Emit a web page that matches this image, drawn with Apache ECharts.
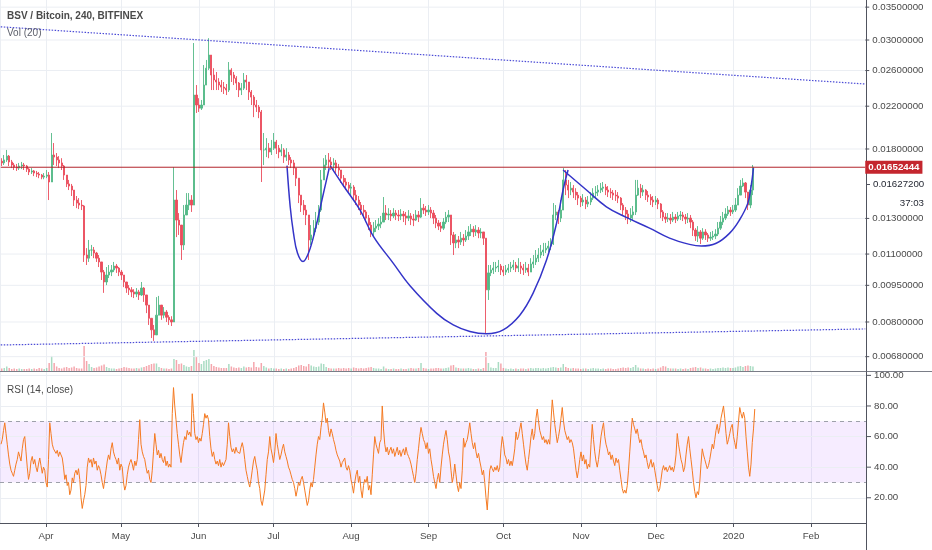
<!DOCTYPE html>
<html><head><meta charset="utf-8">
<script src="https://cdn.jsdelivr.net/npm/echarts@6.0.0/dist/echarts.min.js"></script>
<style>html,body{margin:0;padding:0;background:#fff}#c{width:932px;height:550px}</style>
</head><body><div id="c"></div>
<script>
// ---- data (daily bars, 14 Mar 2019 .. 9 Jan 2020) ----
const firstOpen = 0.01700;
const closes = [
0.01686,0.01710,0.01741,0.01694,0.01670,0.01654,0.01646,0.01662,0.01670,0.01662,
0.01638,0.01616,0.01624,0.01608,0.01601,0.01593,0.01578,0.01585,0.01593,0.01542,
0.01750,0.01733,0.01710,0.01686,0.01662,0.01593,0.01528,0.01513,0.01485,0.01417,
0.01397,0.01384,0.01378,0.01095,0.01079,0.01121,0.01121,0.01105,0.01079,0.01060,
0.01011,0.00965,0.00997,0.01011,0.01021,0.01040,0.01030,0.01011,0.00997,0.00965,
0.00938,0.00930,0.00921,0.00912,0.00921,0.00908,0.00938,0.00908,0.00866,0.00814,
0.00771,0.00753,0.00826,0.00866,0.00826,0.00838,0.00818,0.00808,0.00800,0.01417,
0.01290,0.01260,0.01148,0.01321,0.01384,0.01417,0.01384,0.02318,0.02212,0.02180,
0.02212,0.02429,0.02629,0.02796,0.02546,0.02487,0.02464,0.02429,0.02406,0.02394,
0.02373,0.02607,0.02546,0.02509,0.02452,0.02373,0.02394,0.02487,0.02464,0.02351,
0.02296,0.02212,0.02191,0.02141,0.01792,0.01792,0.01807,0.01775,0.01807,0.01860,
0.01807,0.01775,0.01792,0.01733,0.01750,0.01710,0.01686,0.01646,0.01570,0.01450,
0.01384,0.01352,0.01321,0.01175,0.01203,0.01242,0.01278,0.01352,0.01557,0.01670,
0.01710,0.01694,0.01670,0.01686,0.01646,0.01631,0.01570,0.01542,0.01520,0.01498,
0.01506,0.01450,0.01417,0.01384,0.01352,0.01340,0.01302,0.01260,0.01220,0.01242,
0.01254,0.01266,0.01278,0.01333,0.01321,0.01327,0.01315,0.01333,0.01321,0.01315,
0.01327,0.01315,0.01302,0.01315,0.01296,0.01290,0.01321,0.01308,0.01364,0.01352,
0.01340,0.01352,0.01333,0.01302,0.01272,0.01254,0.01242,0.01278,0.01308,0.01321,
0.01203,0.01159,0.01175,0.01164,0.01185,0.01175,0.01197,0.01220,0.01236,0.01220,
0.01231,0.01214,0.01220,0.01185,0.00930,0.01007,0.01021,0.01030,0.01035,0.01040,
0.01021,0.01011,0.01021,0.01030,0.01035,0.01045,0.01030,0.01040,0.01030,0.01021,
0.01030,0.01011,0.01050,0.01060,0.01079,0.01095,0.01111,0.01121,0.01131,0.01142,
0.01153,0.01321,0.01340,0.01302,0.01352,0.01557,0.01520,0.01485,0.01498,0.01471,
0.01450,0.01430,0.01404,0.01417,0.01391,0.01404,0.01430,0.01464,0.01471,0.01485,
0.01498,0.01506,0.01485,0.01471,0.01464,0.01450,0.01444,0.01430,0.01384,0.01352,
0.01327,0.01302,0.01321,0.01340,0.01450,0.01498,0.01471,0.01485,0.01450,0.01437,
0.01417,0.01404,0.01417,0.01391,0.01340,0.01308,0.01296,0.01302,0.01290,0.01308,
0.01296,0.01315,0.01321,0.01308,0.01296,0.01302,0.01278,0.01231,0.01197,0.01220,
0.01185,0.01220,0.01203,0.01185,0.01191,0.01197,0.01208,0.01242,0.01278,0.01302,
0.01327,0.01352,0.01340,0.01352,0.01384,0.01450,0.01513,0.01535,0.01471,0.01384,
0.01485,0.01652444];
const highs = [
0.01724,0.01750,0.01792,0.01750,0.01710,0.01686,0.01678,0.01686,0.01694,0.01686,
0.01670,0.01646,0.01646,0.01631,0.01624,0.01616,0.01601,0.01608,0.01631,0.01616,
0.01940,0.01851,0.01766,0.01741,0.01724,0.01670,0.01593,0.01557,0.01528,0.01485,
0.01444,0.01430,0.01417,0.01384,0.01131,0.01175,0.01148,0.01137,0.01111,0.01095,
0.01060,0.01021,0.01035,0.01045,0.01045,0.01060,0.01050,0.01035,0.01021,0.00992,
0.00965,0.00951,0.00942,0.00933,0.00938,0.00930,0.00965,0.00942,0.00908,0.00866,
0.00814,0.00789,0.00899,0.00904,0.00866,0.00858,0.00846,0.00826,0.00822,0.01654,
0.01485,0.01333,0.01260,0.01384,0.01464,0.01464,0.01450,0.02958,0.02429,0.02284,
0.02265,0.02668,0.02732,0.03026,0.02796,0.02629,0.02582,0.02509,0.02487,0.02464,
0.02441,0.02706,0.02629,0.02582,0.02533,0.02464,0.02452,0.02570,0.02546,0.02429,
0.02373,0.02318,0.02265,0.02212,0.02161,0.01940,0.01894,0.01851,0.01878,0.01940,
0.01878,0.01834,0.01842,0.01807,0.01807,0.01775,0.01733,0.01710,0.01646,0.01570,
0.01450,0.01417,0.01384,0.01321,0.01260,0.01290,0.01340,0.01384,0.01631,0.01724,
0.01750,0.01766,0.01733,0.01724,0.01710,0.01678,0.01631,0.01593,0.01570,0.01542,
0.01535,0.01520,0.01485,0.01444,0.01404,0.01384,0.01352,0.01321,0.01278,0.01278,
0.01290,0.01302,0.01315,0.01437,0.01384,0.01364,0.01352,0.01364,0.01352,0.01352,
0.01358,0.01346,0.01340,0.01352,0.01333,0.01327,0.01352,0.01346,0.01430,0.01391,
0.01378,0.01384,0.01371,0.01352,0.01321,0.01290,0.01278,0.01302,0.01340,0.01352,
0.01321,0.01220,0.01208,0.01197,0.01220,0.01208,0.01231,0.01254,0.01266,0.01254,
0.01260,0.01248,0.01242,0.01220,0.01185,0.01045,0.01045,0.01060,0.01060,0.01070,
0.01050,0.01040,0.01045,0.01050,0.01060,0.01070,0.01060,0.01079,0.01060,0.01050,
0.01060,0.01050,0.01079,0.01095,0.01121,0.01131,0.01148,0.01159,0.01159,0.01170,
0.01185,0.01397,0.01384,0.01352,0.01417,0.01646,0.01631,0.01557,0.01542,0.01520,
0.01498,0.01471,0.01444,0.01457,0.01437,0.01444,0.01471,0.01498,0.01513,0.01520,
0.01535,0.01542,0.01528,0.01513,0.01498,0.01485,0.01485,0.01471,0.01437,0.01397,
0.01371,0.01352,0.01364,0.01378,0.01557,0.01557,0.01528,0.01520,0.01491,0.01478,
0.01457,0.01444,0.01444,0.01430,0.01397,0.01352,0.01333,0.01333,0.01327,0.01340,
0.01327,0.01340,0.01346,0.01340,0.01327,0.01333,0.01321,0.01290,0.01242,0.01254,
0.01231,0.01242,0.01236,0.01214,0.01220,0.01226,0.01236,0.01278,0.01315,0.01340,
0.01364,0.01378,0.01371,0.01384,0.01430,0.01498,0.01557,0.01570,0.01542,0.01464,
0.01520,0.01670];
const lows = [
0.01662,0.01670,0.01694,0.01662,0.01646,0.01631,0.01624,0.01631,0.01638,0.01631,
0.01616,0.01593,0.01601,0.01585,0.01578,0.01570,0.01562,0.01562,0.01570,0.01417,
0.01593,0.01670,0.01662,0.01646,0.01631,0.01557,0.01506,0.01485,0.01444,0.01378,
0.01364,0.01358,0.01352,0.01060,0.01045,0.01060,0.01090,0.01079,0.01060,0.01035,
0.00974,0.00917,0.00951,0.00983,0.00992,0.01011,0.01007,0.00992,0.00974,0.00942,
0.00917,0.00908,0.00899,0.00895,0.00899,0.00887,0.00904,0.00879,0.00834,0.00789,
0.00742,0.00732,0.00771,0.00826,0.00808,0.00814,0.00800,0.00789,0.00785,0.00800,
0.01191,0.01203,0.01070,0.01121,0.01321,0.01352,0.01340,0.01384,0.02131,0.02141,
0.02161,0.02212,0.02487,0.02607,0.02373,0.02373,0.02373,0.02373,0.02351,0.02329,
0.02318,0.02351,0.02464,0.02429,0.02373,0.02296,0.02318,0.02373,0.02373,0.02265,
0.02212,0.02090,0.02141,0.02080,0.01542,0.01670,0.01733,0.01724,0.01750,0.01792,
0.01758,0.01724,0.01741,0.01686,0.01702,0.01670,0.01646,0.01593,0.01513,0.01397,
0.01340,0.01321,0.01260,0.01070,0.01148,0.01185,0.01220,0.01260,0.01340,0.01557,
0.01631,0.01646,0.01631,0.01631,0.01608,0.01585,0.01535,0.01506,0.01485,0.01464,
0.01450,0.01417,0.01384,0.01352,0.01321,0.01302,0.01278,0.01231,0.01191,0.01191,
0.01220,0.01231,0.01242,0.01278,0.01290,0.01290,0.01284,0.01302,0.01290,0.01284,
0.01290,0.01278,0.01260,0.01284,0.01260,0.01254,0.01284,0.01278,0.01302,0.01327,
0.01315,0.01321,0.01302,0.01266,0.01242,0.01231,0.01220,0.01231,0.01266,0.01278,
0.01148,0.01095,0.01131,0.01131,0.01148,0.01142,0.01164,0.01175,0.01197,0.01191,
0.01197,0.01185,0.01185,0.01148,0.00757,0.00887,0.00992,0.01002,0.01011,0.01011,
0.00997,0.00992,0.00997,0.01007,0.01011,0.01021,0.01011,0.01011,0.01002,0.00997,
0.01007,0.00992,0.01011,0.01030,0.01045,0.01060,0.01079,0.01090,0.01105,0.01111,
0.01121,0.01148,0.01290,0.01266,0.01278,0.01384,0.01450,0.01430,0.01450,0.01430,
0.01417,0.01384,0.01371,0.01378,0.01358,0.01371,0.01384,0.01417,0.01430,0.01444,
0.01464,0.01471,0.01450,0.01437,0.01430,0.01417,0.01411,0.01397,0.01352,0.01321,
0.01290,0.01266,0.01278,0.01290,0.01321,0.01444,0.01430,0.01444,0.01417,0.01404,
0.01384,0.01371,0.01384,0.01358,0.01302,0.01284,0.01272,0.01278,0.01266,0.01278,
0.01272,0.01284,0.01290,0.01284,0.01266,0.01272,0.01242,0.01197,0.01170,0.01164,
0.01153,0.01175,0.01175,0.01164,0.01170,0.01175,0.01180,0.01197,0.01231,0.01260,
0.01290,0.01315,0.01315,0.01327,0.01340,0.01397,0.01464,0.01506,0.01430,0.01352,
0.01364,0.01450];
const volumes = [
10,12,18,12,8,10,8,10,8,8,
8,10,8,10,8,12,10,8,12,32,
60,32,18,12,10,14,16,12,14,18,
12,10,10,100,40,28,16,12,14,18,
22,26,16,12,10,10,8,10,12,16,
14,12,10,10,12,10,14,16,20,24,
28,30,30,16,12,10,10,8,10,48,
44,28,30,24,18,16,20,84,56,32,
28,40,44,48,28,20,16,14,12,12,
12,28,18,14,12,14,12,18,14,16,
14,36,16,14,32,20,14,10,12,10,
10,8,10,8,10,8,10,12,16,22,
24,20,18,28,22,18,16,18,30,28,
16,12,10,10,10,12,10,12,10,12,
10,14,12,10,12,10,12,14,16,12,
10,10,8,18,10,8,8,10,8,8,
10,8,8,10,12,10,10,12,32,12,
10,8,10,10,12,12,10,10,12,14,
22,24,14,12,10,10,10,12,10,8,
8,10,8,12,76,32,14,12,12,36,
30,12,10,8,10,8,10,8,10,10,
8,10,12,10,12,12,10,12,10,12,
14,16,14,12,14,28,16,12,10,12,
10,10,8,10,10,8,10,12,10,10,
8,10,8,10,10,8,8,10,12,14,
12,14,12,16,24,14,10,10,8,10,
8,10,8,10,14,20,18,12,10,10,
10,8,10,8,10,8,12,14,16,12,
14,10,10,8,10,8,10,12,12,14,
12,14,12,12,14,18,20,16,20,22,
20,18];
// RSI(14) read every 12 hours from 14 Mar 2019
const rsi = [
55,58,64,69,62,55,48,42,38,36, 34,38,42,45,50,47,44,52,58,60,
50,40,32,36,44,47,42,45,40,37, 42,46,41,36,40,38,30,27,45,69,
62,55,52,53,49,51,47,50,48,46, 40,32,35,28,30,22,25,33,30,36,
38,35,39,32,20,13,18,22,28,40, 46,43,45,40,46,42,44,38,41,39,
35,30,26,32,38,44,48,45,52,56, 50,47,45,42,46,38,42,40,30,25,
28,35,40,43,45,42,38,44,41,45, 58,71,55,50,47,45,40,36,38,32,
30,38,50,62,55,48,51,46,49,45, 43,47,41,44,40,42,40,75,92,80,
71,62,55,48,43,50,56,60,58,64, 61,63,60,88,75,62,58,60,56,59,
57,62,68,75,72,74,71,60,52,47, 50,45,42,44,41,45,40,43,41,40,
45,55,69,60,53,50,52,49,53,50, 51,49,53,56,52,45,38,34,30,27,
32,38,44,47,42,38,30,26,18,15, 15,25,35,45,50,60,52,48,43,50,
62,55,50,45,48,52,55,50,47,44, 40,38,35,32,30,26,21,25,30,28,
32,34,30,25,20,15,18,25,30,27, 32,40,48,55,60,58,66,72,82,76,
69,72,64,60,65,62,58,55,51,48, 46,44,40,43,42,46,40,38,41,38,
32,28,23,30,35,38,30,34,25,20, 28,32,30,34,25,28,22,35,48,60,
55,52,49,56,58,80,65,55,50,53, 48,51,53,49,52,47,50,53,48,51,
47,50,52,48,53,49,47,45,42,38, 34,30,36,45,52,60,66,62,58,56,
52,56,49,52,45,40,34,30,26,32, 36,30,40,48,55,60,64,58,50,46,
38,30,34,42,35,28,24,30,26,38, 59,53,56,58,63,69,62,56,52,56,
50,46,49,44,40,35,38,30,20,12, 25,38,41,39,37,40,38,41,37,40,
52,60,55,48,46,42,45,41,44,41, 46,52,63,58,60,65,69,62,55,48,
42,38,45,52,60,65,58,62,72,78, 70,64,61,58,60,56,58,55,58,55,
70,84,76,68,62,56,60,65,72,79, 70,64,61,58,60,56,58,56,52,45,
38,33,38,45,50,44,48,42,45,39, 42,40,55,68,58,50,44,40,45,52,
60,65,69,60,55,52,48,50,45,48, 44,41,46,43,45,38,32,26,23,25,
23,28,38,50,62,72,68,65,62,65, 60,56,58,53,50,46,48,43,39,42,
45,40,43,38,33,28,24,26,32,38, 41,38,40,37,39,41,38,40,37,41,
48,62,55,50,45,42,37,40,48,55, 60,52,45,38,30,24,20,24,22,30,
42,52,48,45,42,39,41,45,50,55, 52,58,64,68,62,66,72,76,80,72,
62,55,58,62,66,68,60,56,52,60, 70,79,75,72,76,72,60,50,40,34,
42,56,65,78];
const priceTicks = [0.035, 0.030, 0.026, 0.022, 0.018, 0.013, 0.011, 0.0095, 0.008, 0.0068];
const rsiTicks = [20, 40, 60, 80, 100];
const monthLabels = ['Jan','Feb','Mar','Apr','May','Jun','Jul','Aug','Sep','Oct','Nov','Dec'];
const hLineValue = 0.01652444;
const sideLabel = '0.01627200';
const countdown = '37:03';
const topTrend = [['2019-03-13 14:24', 0.03192], ['2020-02-23 00:00', 0.02441]];
const bottomTrend = [['2019-03-13 14:24', 0.007183], ['2020-02-23 00:00', 0.007743]];
const cupSmall = [
 ['2019-07-06 07:00', 0.01665], ['2019-07-07 14:00', 0.01373], ['2019-07-08 22:00', 0.01212],
 ['2019-07-10 12:00', 0.01105], ['2019-07-12 17:00', 0.01062], ['2019-07-14 22:00', 0.01105],
 ['2019-07-17 14:00', 0.01231], ['2019-07-20 07:00', 0.01417], ['2019-07-23 05:00', 0.01646]];
const cupBig = [
 ['2019-07-23 14:00', 0.01665], ['2019-07-28 22:00', 0.01515], ['2019-08-04 14:00', 0.01352],
 ['2019-08-09 22:00', 0.01195], ['2019-08-17 22:00', 0.01053], ['2019-08-24 14:00', 0.00948],
 ['2019-09-04 07:00', 0.00833], ['2019-09-10 22:00', 0.00789], ['2019-09-17 14:00', 0.00765],
 ['2019-09-24 07:00', 0.00757], ['2019-09-30 22:00', 0.00771], ['2019-10-07 14:00', 0.00826],
 ['2019-10-12 22:00', 0.00916], ['2019-10-18 07:00', 0.01070], ['2019-10-22 07:00', 0.01270],
 ['2019-10-24 22:00', 0.01485], ['2019-10-26 22:00', 0.01631]];
const cupRight = [
 ['2019-10-24 22:00', 0.01631], ['2019-11-03 07:00', 0.01485], ['2019-11-11 07:00', 0.01373],
 ['2019-11-19 07:00', 0.01306], ['2019-11-28 14:00', 0.01242], ['2019-12-06 14:00', 0.01185],
 ['2019-12-14 14:00', 0.01151], ['2019-12-19 07:00', 0.01142], ['2019-12-25 07:00', 0.01157],
 ['2019-12-30 14:00', 0.01212], ['2020-01-03 14:00', 0.01290], ['2020-01-06 22:00', 0.01395],
 ['2020-01-08 07:00', 0.01515], ['2020-01-09 05:00', 0.01646]];

// ---- build ----
const X_MIN = new Date(2019, 2, 13, 14, 24).getTime();
const X_MAX = new Date(2020, 1, 23).getTime();
const DAY = 86400000;
const FONT = 'Liberation Sans, Arial, sans-serif';
const UP = '#53b987', DOWN = '#eb4d5c';
const dayTime = i => new Date(2019, 2, 14 + i).getTime();
const candleData = closes.map((c, i) => {
  const o = i === 0 ? firstOpen : closes[i - 1];
  return [dayTime(i), o, c, Math.min(lows[i], o, c), Math.max(highs[i], o, c)];
});
const volData = volumes.map((v, i) => ({
  value: [dayTime(i), v],
  itemStyle: { color: candleData[i][2] >= candleData[i][1] ? 'rgba(83,185,135,0.5)' : 'rgba(235,77,92,0.5)' }
}));
const rsiData = rsi.map((v, k) => [new Date(2019, 2, 14 + Math.floor(k / 2), (k % 2) * 12).getTime(), v]);

const tickRich = {
  t: { width: 4, height: 1, backgroundColor: '#50535e' },
  v: { padding: [0, 0, 0, 3], fontSize: 9.7, color: '#4a4a4a', fontFamily: FONT }
};
const splitCol = '#ebeef3';
const xBase = {
  type: 'time', min: X_MIN, max: X_MAX, splitNumber: 12,
  minInterval: 35 * DAY, maxInterval: 35 * DAY,
  splitLine: { show: true, lineStyle: { color: splitCol, width: 1 } }
};
const monthFmt = function (v) {
  const d = new Date(v);
  if (d.getDate() !== 1 || d.getHours() !== 0) return '';
  const m = d.getMonth();
  return m === 0 ? String(d.getFullYear()) : monthLabels[m];
};

// price gridlines with right-hand labels, as two-point line series on the log axis
const priceGridSeries = priceTicks.map(v => ({
  type: 'line', xAxisIndex: 0, yAxisIndex: 0, silent: true, symbol: 'none', z: 1,
  data: [[X_MIN, v], [X_MAX, v]],
  lineStyle: { color: splitCol, width: 1 },
  endLabel: { show: true, distance: 0, formatter: () => '{t|}{v|' + v.toFixed(8) + '}', rich: tickRich },
  emphasis: { disabled: true }
}));

const option = {
  animation: false,
  backgroundColor: '#ffffff',
  title: [
    { text: 'BSV / Bitcoin, 240, BITFINEX', left: 7, top: 11, padding: 0, textStyle: { fontSize: 10, fontWeight: 'bold', color: '#4a4a4a', fontFamily: FONT } },
    { text: 'Vol (20)', left: 7, top: 28, padding: 0, textStyle: { fontSize: 10, fontWeight: 'normal', color: '#5d606b', fontFamily: FONT } },
    { text: 'RSI (14, close)', left: 7, top: 385, padding: 0, textStyle: { fontSize: 10, fontWeight: 'normal', color: '#4a4a4a', fontFamily: FONT } }
  ],
  grid: [
    { left: 0, right: 66, top: 0, height: 371, containLabel: false, outerBoundsMode: 'none' },
    { left: 0, right: 66, top: 372, bottom: 27, containLabel: false, outerBoundsMode: 'none' }
  ],
  xAxis: [
    Object.assign({}, xBase, { gridIndex: 0, axisLine: { show: false }, axisTick: { show: false }, axisLabel: { show: false } }),
    Object.assign({}, xBase, {
      gridIndex: 1,
      axisLine: { show: true, onZero: false, lineStyle: { color: '#50535e', width: 1 } },
      axisTick: { show: true, length: 4, lineStyle: { color: '#50535e' } },
      axisLabel: { show: true, formatter: monthFmt, color: '#4a4a4a', fontSize: 9.7, fontFamily: FONT, margin: 8, showMinLabel: false, showMaxLabel: false }
    })
  ],
  yAxis: [
    { type: 'log', gridIndex: 0, position: 'right', min: 0.006358, max: 0.03619,
      axisLine: { show: true, lineStyle: { color: '#50535e' } }, axisTick: { show: false }, axisLabel: { show: false }, splitLine: { show: false } },
    { type: 'value', gridIndex: 0, min: 0, max: 1480, show: false, splitLine: { show: false } },
    { type: 'value', gridIndex: 1, position: 'right', min: 3.5, max: 102.2,
      axisLine: { show: true, lineStyle: { color: '#50535e' } }, axisTick: { show: false }, axisLabel: { show: false }, splitLine: { show: false } }
  ],
  series: priceGridSeries.concat([
    { type: 'bar', name: 'Vol', xAxisIndex: 0, yAxisIndex: 1, data: volData, barWidth: 1.5, silent: true, z: 1 },
    { type: 'candlestick', name: 'BSVBTC', xAxisIndex: 0, yAxisIndex: 0, data: candleData, barWidth: 1.7, z: 3,
      itemStyle: { color: UP, color0: DOWN, borderColor: UP, borderColor0: DOWN, borderWidth: 0.9 } },
    { type: 'line', name: 'hline', xAxisIndex: 0, yAxisIndex: 0, silent: true, symbol: 'none', z: 6,
      data: [[X_MIN, hLineValue], [X_MAX, hLineValue]],
      lineStyle: { color: '#b2242b', width: 1 },
      endLabel: { show: true, distance: 0, formatter: () => hLineValue.toFixed(8),
        backgroundColor: '#c4262e', color: '#ffffff', fontWeight: 'bold', fontSize: 9.7, fontFamily: FONT, padding: [2, 3, 1, 3] },
      emphasis: { disabled: true } },
    { type: 'line', name: 'top', xAxisIndex: 0, yAxisIndex: 0, data: topTrend, symbol: 'none', silent: true, z: 4,
      lineStyle: { color: '#4b4bd6', width: 1.2, type: [1.5, 1.5] } },
    { type: 'line', name: 'bottom', xAxisIndex: 0, yAxisIndex: 0, data: bottomTrend, symbol: 'none', silent: true, z: 4,
      lineStyle: { color: '#4b4bd6', width: 1.2, type: [1.5, 1.5] } },
    { type: 'line', name: 'cup1', xAxisIndex: 0, yAxisIndex: 0, data: cupSmall, symbol: 'none', smooth: 0.4, silent: true, z: 5,
      lineStyle: { color: '#3434c8', width: 1.5 } },
    { type: 'line', name: 'cup2', xAxisIndex: 0, yAxisIndex: 0, data: cupBig, symbol: 'none', smooth: 0.4, silent: true, z: 5,
      lineStyle: { color: '#3434c8', width: 1.5 } },
    { type: 'line', name: 'cup3', xAxisIndex: 0, yAxisIndex: 0, data: cupRight, symbol: 'none', smooth: 0.4, silent: true, z: 5,
      lineStyle: { color: '#3434c8', width: 1.5 } },
    { type: 'line', name: 'rsiGrid', xAxisIndex: 1, yAxisIndex: 2, data: [], silent: true,
      markLine: { z: 1, silent: true, symbol: ['none', 'none'], animation: false,
        lineStyle: { color: splitCol, width: 1, type: 'solid' },
        label: { show: true, position: 'end', distance: 1, formatter: p => '{t|}{v|' + Number(p.value).toFixed(2) + '}', rich: tickRich },
        emphasis: { disabled: true },
        data: rsiTicks.map(v => ({ yAxis: v })) } },
    { type: 'line', name: 'RSI', xAxisIndex: 1, yAxisIndex: 2, data: rsiData, symbol: 'none', silent: true, z: 3,
      lineStyle: { color: '#f57a22', width: 1 },
      markArea: { silent: true, itemStyle: { color: 'rgba(153,40,255,0.09)' }, data: [[{ yAxis: 30 }, { yAxis: 70 }]] },
      markLine: { z: 2, silent: true, symbol: ['none', 'none'], animation: false, label: { show: false },
        lineStyle: { color: '#9ea1aa', width: 1, type: [4, 4] }, emphasis: { disabled: true },
        data: [{ yAxis: 30 }, { yAxis: 70 }] } }
  ]),
  graphic: [
    { type: 'line', silent: true, shape: { x1: 0, y1: 371.5, x2: 932, y2: 371.5 }, style: { stroke: '#7a7d87', lineWidth: 1 } },
    { type: 'line', silent: true, shape: { x1: 866.5, y1: 523, x2: 866.5, y2: 550 }, style: { stroke: '#50535e', lineWidth: 1 } },
    { type: 'line', silent: true, shape: { x1: 866, y1: 184.5, x2: 870, y2: 184.5 }, style: { stroke: '#50535e', lineWidth: 1 } },
    { type: 'text', silent: true, x: 873, y: 184.5, style: { text: sideLabel, fill: '#1e222d', font: '9.7px ' + FONT, verticalAlign: 'middle' } },
    { type: 'text', silent: true, x: 924, y: 203, style: { text: countdown, fill: '#1e222d', font: '9.7px ' + FONT, align: 'right', verticalAlign: 'middle' } }
  ]
};
const chart = echarts.init(document.getElementById('c'), null, { renderer: 'canvas' });
chart.setOption(option);
</script></body></html>
